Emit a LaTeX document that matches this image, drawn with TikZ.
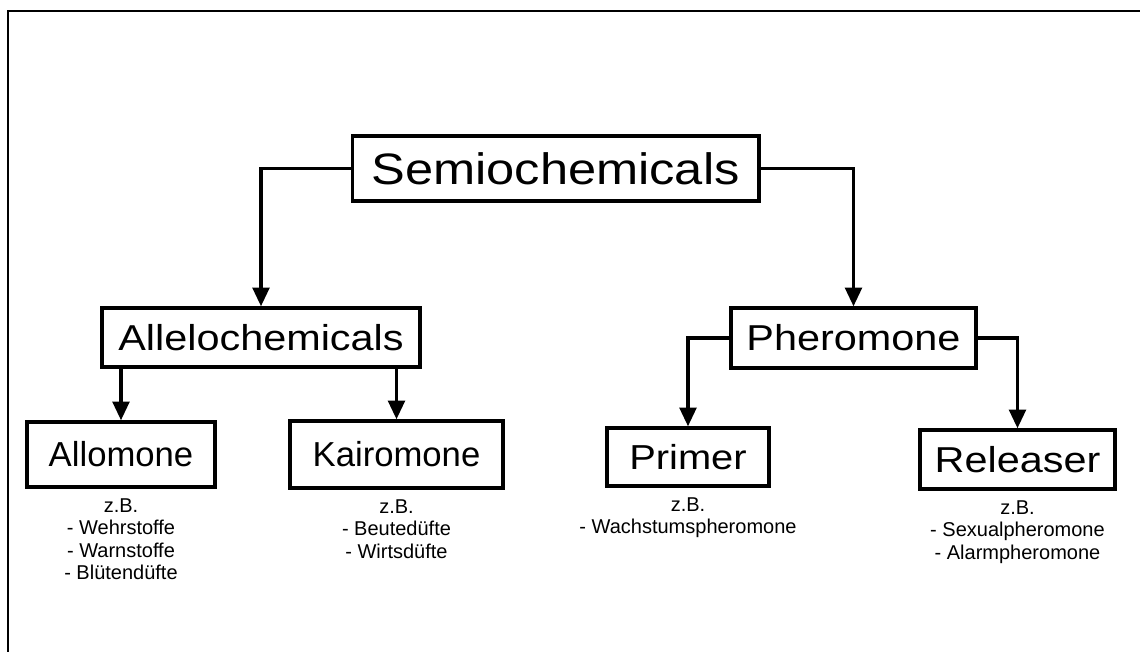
\documentclass[tikz,border=0pt]{standalone}
\usepackage{fontspec}
\setmainfont{Liberation Sans}
\newfontfamily\widefont[FakeStretch=1.15]{Liberation Sans}
\usetikzlibrary{arrows.meta,positioning}
\tikzset{
  box/.style={draw, line width=2.5pt, inner sep=0pt,
    font=\widefont\fontsize{27pt}{30pt}\selectfont},
  plainbox/.style={box, font=\fontsize{26pt}{30pt}\selectfont},
  arr/.style={line width=2.5pt, -{Triangle[length=14pt,width=12.5pt]}},
  note/.style={align=center, inner sep=0pt,
    font=\fontsize{15pt}{16.9pt}\selectfont},
}
\begin{document}
\begin{tikzpicture}[x=0.75pt,y=-0.75pt]
  \useasboundingbox (0,0) rectangle (1140,652);
  % frame
  \draw[line width=1.5pt] (8,652) -- (8,11) -- (1140,11);

  \node[box, minimum width=305pt, minimum height=48.8pt,
    font=\widefont\fontsize{33pt}{36pt}\selectfont] (semio) at (555.5,168.5) {Semiochemicals};
  \node[box, minimum width=238.5pt, minimum height=44.3pt] (alle) at (261,337.5) {Allelochemicals};
  \node[box, minimum width=183.8pt, minimum height=45pt] (phero) at (853.5,338) {Pheromone};
  \node[plainbox, minimum width=141pt, minimum height=48.8pt] (allo) at (121,454.5) {Allomone};
  \node[plainbox, minimum width=159.8pt, minimum height=50.3pt] (kairo) at (396.5,454.5) {Kairomone};
  \node[box, minimum width=121.5pt, minimum height=43.5pt, font=\widefont\fontsize{26pt}{30pt}\selectfont] (primer) at (688,457) {Primer};
  \node[box, minimum width=146.3pt, minimum height=44.3pt] (releaser) at (1017.5,459.5) {Releaser};

  % examples
  \node[note, below=7pt of allo] (allonote) {z.B.\\- Wehrstoffe\\- Warnstoffe\\- Blütendüfte};
  \node[note, below=7pt of kairo] (kaironote) {z.B.\\- Beutedüfte\\- Wirtsdüfte};
  \node[note, below=7pt of primer] (primernote) {z.B.\\- Wachstumspheromone};
  \node[note, below=7pt of releaser] (releasernote) {z.B.\\- Sexualpheromone\\- Alarmpheromone};

  \begin{scope}[arr]
    \draw (semio.west) -| (alle.north);
    \draw (semio.east) -| (phero.north);
    \draw (alle.south -| allo.north) -- (allo.north);
    \draw (alle.south -| kairo.north) -- (kairo.north);
    \draw (phero.west) -| (primer.north);
    \draw (phero.east) -| (releaser.north);
  \end{scope}
\end{tikzpicture}
\end{document}
